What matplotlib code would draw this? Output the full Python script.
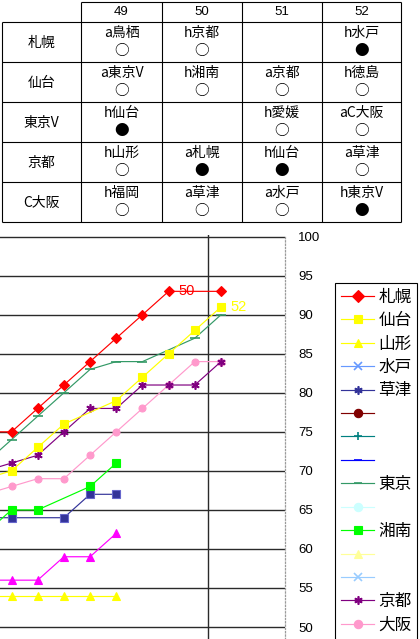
import matplotlib
matplotlib.use("Agg")
import matplotlib.pyplot as plt
from matplotlib.lines import Line2D

plt.rcParams['font.family'] = ['Noto Sans CJK JP', 'DejaVu Sans']

# ---------------- data ----------------
rounds = [43, 44, 45, 46, 47, 48, 49, 50, 51, 52]

sapporo = [75, 75, 78, 81, 84, 87, 90, 93, None, 93]
sendai = [69, 70, 73, 76, None, 79, 82, 85, 88, 91]
yamagata = [54, 54, 54, 54, 54, 54]
tokyo = [71, 74, 77, 80, 83, 84, 84, None, 87, 90]
shonan = [62, 65, 65, None, 68, 71]
kyoto = [70, 71, 72, 75, 78, 78, 81, 81, 81, 84]
osaka = [67, 68, 69, 69, 72, 75, 78, 81, 84, 84]
team_navy = [64, 64, None, 64, 67, 67]
team_magenta = [56, 56, 56, 59, 59, 62]

y_ticks = [50, 55, 60, 65, 70, 75, 80, 85, 90, 95, 100]

# table
table_cols = ['49', '50', '51', '52']
table_rows = ['札幌', '仙台', '東京V', '京都', 'C大阪']
table_opp = [
    ['a鳥栖', 'h京都', '', 'h水戸'],
    ['a東京V', 'h湘南', 'a京都', 'h徳島'],
    ['h仙台', '', 'h愛媛', 'aC大阪'],
    ['h山形', 'a札幌', 'h仙台', 'a草津'],
    ['h福岡', 'a草津', 'a水戸', 'h東京V'],
]
table_res = [
    ['○', '○', '', '●'],
    ['○', '○', '○', '○'],
    ['●', '', '○', '○'],
    ['○', '●', '●', '○'],
    ['○', '○', '○', '●'],
]

# legend entries (name, color, marker); the list runs past the bottom edge
legend_names = ['札幌', '仙台', '山形', '水戸', '草津', ' ', ' ', ' ',
                '東京', ' ', '湘南', ' ', ' ', '京都', '大阪', ' ', ' ']
legend_colors = ['#FF0000', '#FFFF00', '#FFFF00', '#6699FF', '#333399',
                 '#800000', '#008080', '#0000FF', '#339966', '#CCFFFF',
                 '#00FF00', '#FFFF99', '#99CCFF', '#800080', '#FF99CC',
                 '#333399', '#FF00FF']
legend_markers = ['D', 's', '^', 'x', (6, 2, 0), 'o', '+', '_', '_', 'o',
                  's', '^', 'x', (6, 2, 0), 'o', 's', '^']

W, H = 420, 639
fig = plt.figure(figsize=(W / 100, H / 100), dpi=100)

# ---------------- chart ----------------
ax_top_px = 235
ax = fig.add_axes([0, 0, 285 / W, (H - ax_top_px) / H])
px_per_round = 26.19
x0_px = 11.5
ax.set_xlim(44 - x0_px / px_per_round, 44 + (285 - x0_px) / px_per_round)
px_per_unit = 7.806
ax.set_ylim(50 - (H - 627) / px_per_unit, 100 + (236.7 - ax_top_px) / px_per_unit)


def xy(vals):
    pts = [(r, v) for r, v in zip(rounds, vals) if v is not None]
    return [p[0] for p in pts], [p[1] for p in pts]


series = [
    (yamagata, '#FFFF00', '^', 6, '#FFFF00'),
    (team_magenta, '#FF00FF', '^', 6, '#FF00FF'),
    (team_navy, '#333399', 's', 6, '#6666CC'),
    (shonan, '#00FF00', 's', 6, '#00FF00'),
    (osaka, '#FF99CC', 'o', 5, '#FF99CC'),
    (kyoto, '#800080', (6, 2, 0), 6, '#800080'),
    (tokyo, '#339966', '_', 7, '#339966'),
    (sendai, '#FFFF00', 's', 6, '#FFFF00'),
    (sapporo, '#FF0000', 'D', 5.5, '#FF0000'),
]
for vals, col, mk, ms, mec in series:
    xs, ys = xy(vals)
    ax.plot(xs, ys, color=col, lw=0.85, marker=mk, ms=ms, mfc=col, mec=mec,
            mew=1.2 if mk in ('_', (6, 2, 0)) else 0.8, zorder=3)

# data labels
ax.annotate('50', (50, sapporo[rounds.index(50)]), xytext=(7, 0),
            textcoords='offset points', color='#FF0000', fontsize=10.5,
            va='center', ha='left', family=['Liberation Sans', 'DejaVu Sans'])
ax.annotate('52', (52, sendai[rounds.index(52)]), xytext=(6.5, 0),
            textcoords='offset points', color='#FFFF00', fontsize=10.5,
            va='center', ha='left', family=['Liberation Sans', 'DejaVu Sans'])

ax.set_yticks(y_ticks)
ax.yaxis.tick_right()
ax.tick_params(axis='y', length=0, pad=9.5, labelsize=9.5, colors='#000000')
for lab in ax.get_yticklabels():
    lab.set_family(['Liberation Sans', 'DejaVu Sans'])
ax.yaxis.grid(True, color='#2a2a2a', lw=1.0)
ax.set_xticks([51.5])
ax.xaxis.grid(True, color='#2a2a2a', lw=1.0)
ax.tick_params(axis='x', length=0, labelbottom=False)
ax.set_axisbelow(True)
for s in ('left', 'top', 'bottom'):
    ax.spines[s].set_visible(False)
ax.spines['right'].set_color('#9a9a9a')
ax.spines['right'].set_linestyle(':')
ax.spines['right'].set_linewidth(0.9)

# legend
handles = [Line2D([0], [0], color=c, marker=m, ms=6, mfc=c, mec=c, lw=0.85,
                  mew=1.2 if m in ('_', 'x', '+', (6, 2, 0)) else 0.8)
           for c, m in zip(legend_colors, legend_markers)]
leg = fig.legend(handles, legend_names, loc='upper left',
                 bbox_to_anchor=(335 / W, 1 - 283 / H), bbox_transform=fig.transFigure,
                 frameon=True, fancybox=False, shadow=False, framealpha=1,
                 edgecolor='#000000', fontsize=12, borderpad=0.35, labelspacing=0.385,
                 handlelength=2.0, handletextpad=0.25, borderaxespad=0)
leg.get_frame().set_linewidth(0.8)

# ---------------- table ----------------
tax = fig.add_axes([0, 0, 1, 1])
tax.set_xlim(0, W)
tax.set_ylim(H, 0)
tax.axis('off')
tax.patch.set_visible(False)

col_x = [2, 81, 162, 242, 322, 401]
row_y = [2, 22, 62, 102, 142, 182, 222]
lk = dict(color='#000000', lw=0.8, solid_capstyle='butt')
tax.plot([col_x[1], col_x[-1]], [row_y[0], row_y[0]], **lk)
for yy in row_y[1:]:
    tax.plot([col_x[0], col_x[-1]], [yy, yy], **lk)
tax.plot([col_x[0], col_x[0]], [row_y[1], row_y[-1]], **lk)
for xx in col_x[1:]:
    tax.plot([xx, xx], [row_y[0], row_y[-1]], **lk)

for j, c in enumerate(table_cols):
    cx = (col_x[j + 1] + col_x[j + 2]) / 2
    tax.text(cx, (row_y[0] + row_y[1]) / 2, c, ha='center', va='center',
             fontsize=9.5, family=['Liberation Sans', 'DejaVu Sans'])
for i, r in enumerate(table_rows):
    top = row_y[i + 1]
    tax.text((col_x[0] + col_x[1]) / 2, top + 21, r, ha='center', va='center', fontsize=10)
    for j in range(len(table_cols)):
        cx = (col_x[j + 1] + col_x[j + 2]) / 2
        if table_opp[i][j]:
            tax.text(cx, top + 11, table_opp[i][j], ha='center', va='center', fontsize=10)
        if table_res[i][j]:
            tax.text(cx, top + 29, table_res[i][j], ha='center', va='center', fontsize=10.5)

fig.savefig('out.png', dpi=100)
